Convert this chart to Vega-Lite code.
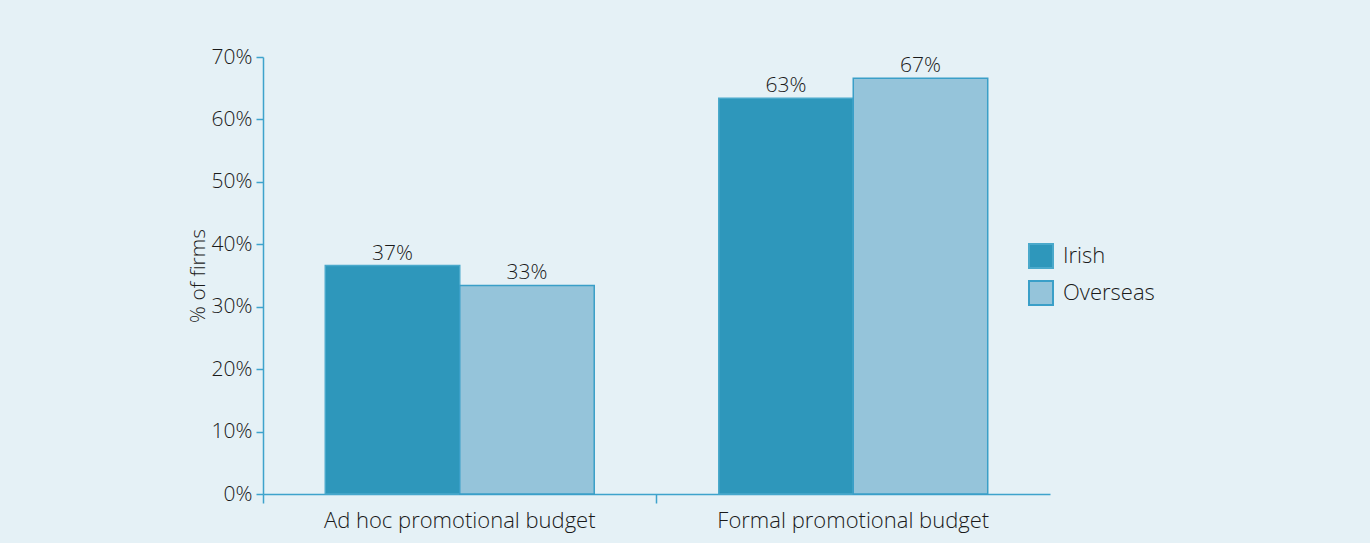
{
  "$schema": "https://vega.github.io/schema/vega-lite/v6.json",
  "width": 787,
  "height": 437,
  "autosize": {"type": "none"},
  "padding": {"left": 263, "top": 57, "right": 320, "bottom": 49},
  "background": "#e5f1f6",
  "config": {
    "view": {"stroke": null},
    "font": "Open Sans",
    "axis": {
      "domainColor": "#3ea3cc",
      "tickColor": "#3ea3cc",
      "domainWidth": 1.5,
      "tickWidth": 1.5,
      "labelColor": "#1a1a1a",
      "titleColor": "#1a1a1a",
      "labelFontSize": 22,
      "titleFontSize": 21,
      "labelFontWeight": 300,
      "titleFontWeight": 300,
      "labelLimit": 0,
      "grid": false
    },
    "legend": {
      "orient": "none",
      "legendX": 765,
      "legendY": 186,
      "padding": 0,
      "symbolType": "square",
      "symbolSize": 576,
      "symbolStrokeWidth": 2,
      "labelFontSize": 22,
      "labelFontWeight": 300,
      "labelColor": "#1a1a1a",
      "labelOffset": 9,
      "rowPadding": 5
    }
  },
  "data": {
    "values": [
      {"budget": "Ad hoc promotional budget", "origin": "Irish", "value": 36.6, "label": "37%"},
      {"budget": "Ad hoc promotional budget", "origin": "Overseas", "value": 33.4, "label": "33%"},
      {"budget": "Formal promotional budget", "origin": "Irish", "value": 63.4, "label": "63%"},
      {"budget": "Formal promotional budget", "origin": "Overseas", "value": 66.6, "label": "67%"}
    ]
  },
  "encoding": {
    "x": {
      "field": "budget",
      "type": "nominal",
      "scale": {"paddingInner": 0, "paddingOuter": 0},
      "axis": {"title": null, "labelAngle": 0, "tickSize": 9, "labelPadding": 7, "bandPosition": 0, "tickExtra": false}
    },
    "xOffset": {
      "field": "origin",
      "type": "nominal",
      "scale": {"paddingInner": 0, "paddingOuter": 0.463}
    },
    "y": {
      "field": "value",
      "type": "quantitative",
      "scale": {"domain": [0, 70]},
      "axis": {
        "title": "% of firms",
        "values": [0, 10, 20, 30, 40, 50, 60, 70],
        "labelExpr": "datum.value + '%'",
        "labelFontSize": 21,
        "tickSize": 7,
        "labelPadding": 4,
        "titlePadding": 3
      }
    }
  },
  "layer": [
    {
      "mark": {"type": "bar", "strokeWidth": 1.5},
      "encoding": {
        "color": {
          "field": "origin",
          "type": "nominal",
          "title": null,
          "scale": {"domain": ["Irish", "Overseas"], "range": ["#2e97bb", "#95c4da"]}
        },
        "stroke": {
          "field": "origin",
          "type": "nominal",
          "title": null,
          "scale": {"domain": ["Irish", "Overseas"], "range": ["#4aa9cb", "#3a9fc8"]}
        }
      }
    },
    {
      "mark": {"type": "text", "baseline": "alphabetic", "dy": -6, "fontSize": 21, "fontWeight": 300, "color": "#1a1a1a"},
      "encoding": {"text": {"field": "label"}}
    }
  ]
}
